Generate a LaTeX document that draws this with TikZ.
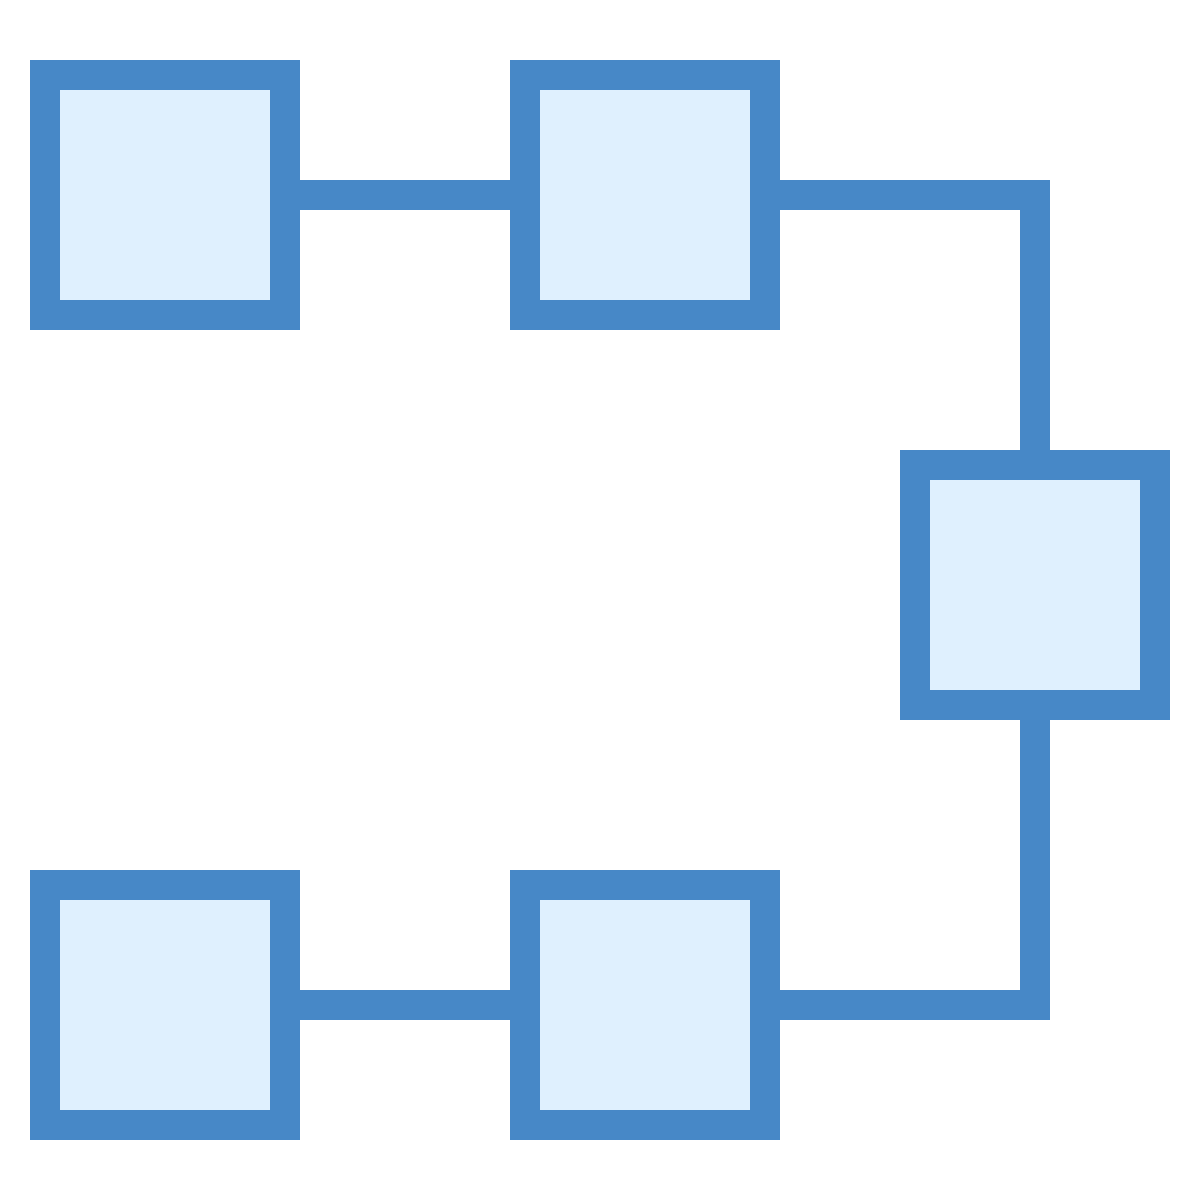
\documentclass[tikz,border=0pt]{standalone}
\usepackage{tikz}
\definecolor{boxBlue}{HTML}{4788C7}
\definecolor{boxFill}{HTML}{DFF0FE}
\begin{document}
\begin{tikzpicture}[
	box/.style={rectangle, draw=boxBlue, fill=boxFill, line width=0.3cm, minimum size=2.4cm, inner sep=0pt},
	link/.style={draw=boxBlue, line width=0.3cm}]
\useasboundingbox (0,0) rectangle (12,12);
\node[box](box1) at (1.65,10.05){};
	\node[box](box2) at (6.45,10.05){};
	\node[box](box3) at (10.35,6.15){};
	\node[box](box4) at (1.65,1.95){};
	\node[box](box5) at (6.45,1.95){};

	\draw[link] (box1.east) -- (box2.west);
	\draw[link] (box2.east) -| (box3.north);
	\draw[link] (box3.south) |- (box5.east);
	\draw[link] (box4.east) -- (box5.west);
\end{tikzpicture}
\end{document}
